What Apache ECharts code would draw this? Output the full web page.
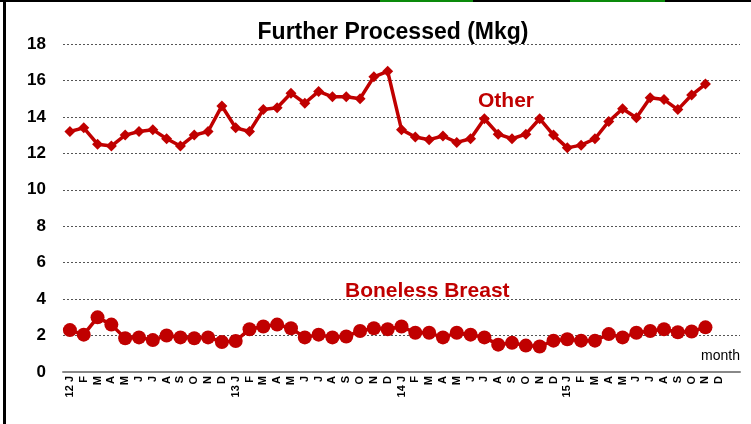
<!DOCTYPE html>
<html>
<head>
<meta charset="utf-8">
<script src="https://cdn.jsdelivr.net/npm/echarts@6/dist/echarts.min.js"></script>
<style>
  html, body { margin: 0; padding: 0; background: #fff; }
  #chart { width: 751px; height: 424px; }
</style>
</head>
<body>
<div id="chart"></div>
<script>
// month labels, Jan 2012 .. Dec 2015 (+ one empty slot at the end like the original axis)
var months = ['12 J','F','M','A','M','J','J','A','S','O','N','D',
              '13 J','F','M','A','M','J','J','A','S','O','N','D',
              '14 J','F','M','A','M','J','J','A','S','O','N','D',
              '15 J','F','M','A','M','J','J','A','S','O','N','D', ''];

var otherVals = [13.2, 13.4, 12.5, 12.4, 13.0, 13.2, 13.3, 12.8, 12.4, 13.0, 13.2, 14.6,
                 13.4, 13.2, 14.4, 14.5, 15.3, 14.75, 15.4, 15.1, 15.1, 15.0, 16.2, 16.5,
                 13.3, 12.9, 12.75, 12.95, 12.6, 12.8, 13.9, 13.05, 12.8, 13.05, 13.9, 13.0,
                 12.3, 12.45, 12.8, 13.75, 14.45, 13.95, 15.05, 14.95, 14.4, 15.2, 15.8];

var breastVals = [2.3, 2.05, 3.0, 2.6, 1.85, 1.9, 1.75, 2.0, 1.9, 1.85, 1.9, 1.65,
                  1.7, 2.35, 2.5, 2.6, 2.4, 1.9, 2.05, 1.9, 1.95, 2.25, 2.4, 2.35,
                  2.5, 2.15, 2.15, 1.9, 2.15, 2.05, 1.9, 1.5, 1.6, 1.45, 1.4, 1.72,
                  1.8, 1.72, 1.72, 2.08, 1.9, 2.15, 2.25, 2.35, 2.18, 2.22, 2.45];

var red = '#C00000';
var myChart = echarts.init(document.getElementById('chart'));

var option = {
  animation: false,
  textStyle: { fontFamily: 'Liberation Sans, Arial, sans-serif' },
  title: {
    text: 'Further Processed (Mkg)',
    left: 388, top: 16, textAlign: 'center',
    textStyle: { fontSize: 23, fontWeight: 'bold', color: '#000' }
  },
  grid: { left: 63, right: 11, top: 44, bottom: 52, containLabel: false },
  xAxis: {
    type: 'category',
    data: months,
    boundaryGap: true,
    axisLine: { lineStyle: { color: '#888', width: 2 } },
    axisTick: { show: false },
    axisLabel: { interval: 0, rotate: 90, fontSize: 11, fontWeight: 'bold', color: '#000', margin: 4 }
  },
  yAxis: {
    type: 'value',
    min: 0, max: 18, interval: 2,
    axisLine: { show: false },
    axisTick: { show: false },
    axisLabel: { fontSize: 17, fontWeight: 'bold', color: '#000', margin: 17 },
    splitLine: { lineStyle: { color: '#555', type: [2, 2], width: 1 } }
  },
  series: [
    {
      name: 'Other', type: 'line', data: otherVals,
      symbol: 'diamond', symbolSize: 11,
      lineStyle: { color: red, width: 3.5 },
      itemStyle: { color: red }
    },
    {
      name: 'Boneless Breast', type: 'line', data: breastVals,
      symbol: 'circle', symbolSize: 14,
      lineStyle: { color: red, width: 3.5 },
      itemStyle: { color: red }
    }
  ],
  graphic: [
    { type: 'text', left: 478, top: 91, style: { text: 'Other', fill: red, font: 'bold 21px Liberation Sans, Arial' } },
    { type: 'text', left: 345, top: 281, style: { text: 'Boneless Breast', fill: red, font: 'bold 21px Liberation Sans, Arial' } },
    { type: 'text', right: 11, top: 349, style: { text: 'month', fill: '#000', font: '14px Liberation Sans, Arial' } },
    // frame pieces from the original slide
    { type: 'rect', left: 0, top: 0, shape: { width: 751, height: 2 }, style: { fill: '#000' } },
    { type: 'rect', left: 380, top: 0, shape: { width: 93, height: 2 }, style: { fill: '#0a8a0a' } },
    { type: 'rect', left: 570, top: 0, shape: { width: 95, height: 2 }, style: { fill: '#0a8a0a' } },
    { type: 'rect', left: 3, top: 0, shape: { width: 3, height: 424 }, style: { fill: '#000' } }
  ]
};
option && myChart.setOption(option);
</script>
</body>
</html>
